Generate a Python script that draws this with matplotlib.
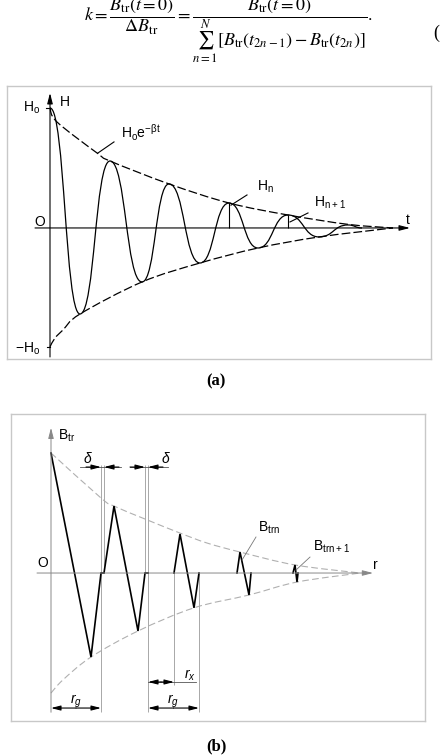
import numpy as np
import matplotlib
matplotlib.use("Agg")
import matplotlib.pyplot as plt
from matplotlib.path import Path
from matplotlib.patches import PathPatch

plt.rcParams['font.family'] = ['Liberation Sans Narrow', 'Liberation Sans', 'DejaVu Sans']

# ---- panel (a): damped oscillation, extrema
osc_t = [0, 3.0, 6.0, 9.2, 11.9, 15.0, 17.9, 20.8, 23.8, 26.9, 29.8, 31.2]
osc_h = [1.0, -0.717, 0.558, -0.45, 0.367, -0.292, 0.208, -0.167, 0.108, -0.075, 0.025, 0.0]

env_up_t = [0, 0.7, 4.7, 6.0, 11.9, 17.9, 23.8, 29.8, 34.3]
env_up_h = [1.0, 0.883, 0.625, 0.558, 0.367, 0.208, 0.108, 0.03, 0.0]
env_lo_t = [0, 0.5, 1.3, 3.0, 9.2, 15.0, 20.8, 26.9, 34.3]
env_lo_h = [-0.99, -0.917, -0.85, -0.717, -0.45, -0.292, -0.167, -0.075, 0.0]

hn_t = [17.9, 23.8]
hn_h = [0.208, 0.108]

# ---- panel (b): sawtooth pulses of B_tr along r
pulse_r = [[0, 4.0, 5.0, 5.3, 6.3, 8.7, 9.4, 9.7],
           [12.3, 12.9, 14.3, 14.8],
           [18.6, 18.9, 19.8, 20.0],
           [24.2, 24.4, 24.6, 24.7]]
pulse_b = [[1.0, -0.70, 0, 0, 0.558, -0.483, 0, 0],
           [0, 0.325, -0.29, 0],
           [0, 0.175, -0.183, 0],
           [0, 0.067, -0.075, 0]]

envb_up_r = [0, 5.0, 6.3, 9.4, 12.9, 15.6, 18.9, 24.4, 30.9]
envb_up_b = [1.0, 0.625, 0.558, 0.45, 0.333, 0.25, 0.175, 0.067, 0.0]
envb_lo_r = [0, 1.2, 4.0, 8.7, 14.3, 19.8, 24.6, 30.9]
envb_lo_b = [-1.0, -0.89, -0.70, -0.483, -0.29, -0.183, -0.075, 0.0]

# guide lines: r position, top, bottom
guide_r = [5.0, 5.3, 9.4, 9.7, 12.3, 14.8]
guide_top = [0.9, 0.9, 0.9, 0.9, 0, 0]
guide_bot = [-1.16, 0, 0, -1.16, -0.933, -1.16]


def smooth_path(xs, ys):
    pts = np.column_stack([xs, ys]).astype(float)
    n = len(pts)
    verts = [pts[0]]
    codes = [Path.MOVETO]
    for i in range(n - 1):
        p0 = pts[max(i - 1, 0)]
        p1 = pts[i]
        p2 = pts[i + 1]
        p3 = pts[min(i + 2, n - 1)]
        verts += [p1 + (p2 - p0) / 6, p2 - (p3 - p1) / 6, p2]
        codes += [Path.CURVE4] * 3
    return Path(verts, codes)


def wave_path(xs, ys, k=0.5):
    verts = [(xs[0], ys[0])]
    codes = [Path.MOVETO]
    for i in range(len(xs) - 1):
        dx = xs[i + 1] - xs[i]
        verts += [(xs[i] + k * dx, ys[i]), (xs[i + 1] - k * dx, ys[i + 1]), (xs[i + 1], ys[i + 1])]
        codes += [Path.CURVE4] * 3
    return Path(verts, codes)


def arrow(ax, x0, y0, x1, y1, color='black', lw=0.8, hl=0.7, hw=0.18, ms=9):
    ax.annotate('', xy=(x1, y1), xytext=(x0, y0),
                arrowprops=dict(arrowstyle=f'-|>,head_length={hl},head_width={hw}',
                                color=color, lw=lw, mutation_scale=ms,
                                shrinkA=0, shrinkB=0))


def setup(ax):
    ax.set_xticks([])
    ax.set_yticks([])
    for s in ax.spines.values():
        s.set_color('#c8c8c8')
        s.set_linewidth(1.0)


fig = plt.figure(figsize=(4.4, 7.56), dpi=100)


def ftext(x, y, s, **kw):
    fig.text(x / 440, 1 - y / 756, s, **kw)


# formula on top (partly cut like the page scan)
ftext(228, 21, r'$k=\dfrac{B_{\mathrm{tr}}(t=0)}{\Delta B_{\mathrm{tr}}}='
               r'\dfrac{B_{\mathrm{tr}}(t=0)}{\sum_{n=1}^{N}[B_{\mathrm{tr}}(t_{2n-1})-B_{\mathrm{tr}}(t_{2n})]}.$',
      ha='center', va='baseline', fontsize=13, math_fontfamily='stix')
ftext(433, 33, '(', ha='left', va='center', fontsize=13, family='Liberation Serif')

ftext(216, 381, '(a)', ha='center', va='center', fontsize=12, family='Liberation Serif', weight='bold')
ftext(216, 746, '(b)', ha='center', va='center', fontsize=12, family='Liberation Serif', weight='bold')

# ---------------- panel (a)
axA = fig.add_axes([7 / 440, 1 - 359 / 756, 424 / 440, 273 / 756])
axA.set_xlim(-4.3, 38.1)
axA.set_ylim(-1.092, 1.183)
setup(axA)

arrow(axA, -1.5, 0, 36.0, 0)
arrow(axA, 0, -1.075, 0, 1.125)
axA.plot([-0.4, 0], [1, 1], color='black', lw=0.8)
axA.plot([-0.35, 0], [-0.99, -0.99], color='black', lw=0.8)

axA.add_patch(PathPatch(wave_path(osc_t, osc_h), fill=False, ec='black', lw=0.9))
axA.add_patch(PathPatch(smooth_path(env_up_t, env_up_h), fill=False, ec='black', lw=0.9, ls=(0, (7, 2.5))))
axA.add_patch(PathPatch(smooth_path(env_lo_t, env_lo_h), fill=False, ec='black', lw=0.9, ls=(0, (7, 2.5))))
axA.vlines(hn_t, 0, hn_h, color='black', lw=0.8)

axA.text(-1.0, 1.0, r'$\mathregular{H_o}$', ha='right', va='center', fontsize=10)
axA.text(1.0, 1.05, 'H', ha='left', va='center', fontsize=10)
axA.text(-1.0, 0.05, 'O', ha='center', va='center', fontsize=10)
axA.text(-1.0, -1.008, r'$\mathregular{-H_o}$', ha='right', va='center', fontsize=10)
axA.text(35.8, 0.067, 't', ha='center', va='center', fontsize=10)
axA.text(7.1, 0.79, r'$\mathregular{H_oe^{-βt}}$', ha='left', va='center', fontsize=10)
axA.plot([4.8, 6.4], [0.625, 0.717], color='black', lw=0.8)
axA.text(20.7, 0.342, r'$\mathregular{H_n}$', ha='left', va='center', fontsize=10)
axA.plot([18.1, 19.7], [0.19, 0.275], color='black', lw=0.8)
axA.text(26.4, 0.208, r'$\mathregular{H_{n+1}}$', ha='left', va='center', fontsize=10)
axA.plot([24.0, 25.8], [0.05, 0.125], color='black', lw=0.8)

# ---------------- panel (b)
axB = fig.add_axes([11 / 440, 1 - 721 / 756, 414 / 440, 307 / 756])
axB.set_xlim(-4.0, 37.4)
axB.set_ylim(-1.233, 1.325)
setup(axB)

grey = '#a8a8a8'
arrow(axB, -1.4, 0, 32.2, 0, color='#888888', lw=0.7)
arrow(axB, 0, -1.16, 0, 1.21, color='#888888', lw=0.7)
axB.vlines(guide_r, guide_bot, guide_top, color=grey, lw=0.7)

axB.add_patch(PathPatch(smooth_path(envb_up_r, envb_up_b), fill=False, ec='#b0b0b0', lw=0.8, ls=(0, (6, 3))))
axB.add_patch(PathPatch(smooth_path(envb_lo_r, envb_lo_b), fill=False, ec='#b0b0b0', lw=0.8, ls=(0, (6, 3))))

for pr, pb in zip(pulse_r, pulse_b):
    axB.plot(pr, pb, color='black', lw=1.2, solid_joinstyle='miter')

# delta dimensions
axB.plot([2.9, 7.0], [0.883, 0.883], color='#555555', lw=0.6)
arrow(axB, 3.5, 0.883, 5.0, 0.883, ms=8)
arrow(axB, 6.8, 0.883, 5.3, 0.883, ms=8)
axB.plot([7.9, 11.7], [0.883, 0.883], color='#555555', lw=0.6)
arrow(axB, 7.9, 0.883, 9.4, 0.883, ms=8)
arrow(axB, 11.2, 0.883, 9.7, 0.883, ms=8)
axB.text(3.6, 0.95, 'δ', ha='center', va='center', fontsize=10, style='italic')
axB.text(11.4, 0.95, 'δ', ha='center', va='center', fontsize=10, style='italic')

# r_x and r_g dimensions
axB.plot([9.7, 14.5], [-0.908, -0.908], color='#555555', lw=0.6)
arrow(axB, 11.0, -0.908, 9.7, -0.908, ms=8)
arrow(axB, 11.0, -0.908, 12.3, -0.908, ms=8)
axB.text(13.9, -0.85, r'$\mathregular{r_x}$', ha='center', va='center', fontsize=10, style='italic')
for a, b in [(0, 5.0), (9.7, 14.8)]:
    m = (a + b) / 2
    arrow(axB, m, -1.125, a, -1.125, ms=8)
    arrow(axB, m, -1.125, b, -1.125, ms=8)
    axB.text(m, -1.07, r'$\mathregular{r_g}$', ha='center', va='center', fontsize=10, style='italic')

axB.text(0.7, 1.14, r'$\mathregular{B_{tr}}$', ha='left', va='center', fontsize=10)
axB.text(-0.8, 0.083, 'O', ha='center', va='center', fontsize=10)
axB.text(32.4, 0.067, 'r', ha='center', va='center', fontsize=10)
axB.text(20.7, 0.375, r'$\mathregular{B_{trn}}$', ha='left', va='center', fontsize=10)
axB.plot([19.1, 20.5], [0.108, 0.3], color='#777777', lw=0.6)
axB.text(26.2, 0.217, r'$\mathregular{B_{trn+1}}$', ha='left', va='center', fontsize=10)
axB.plot([24.5, 25.9], [0.025, 0.133], color='#777777', lw=0.6)

fig.savefig('out.png', dpi=100)
